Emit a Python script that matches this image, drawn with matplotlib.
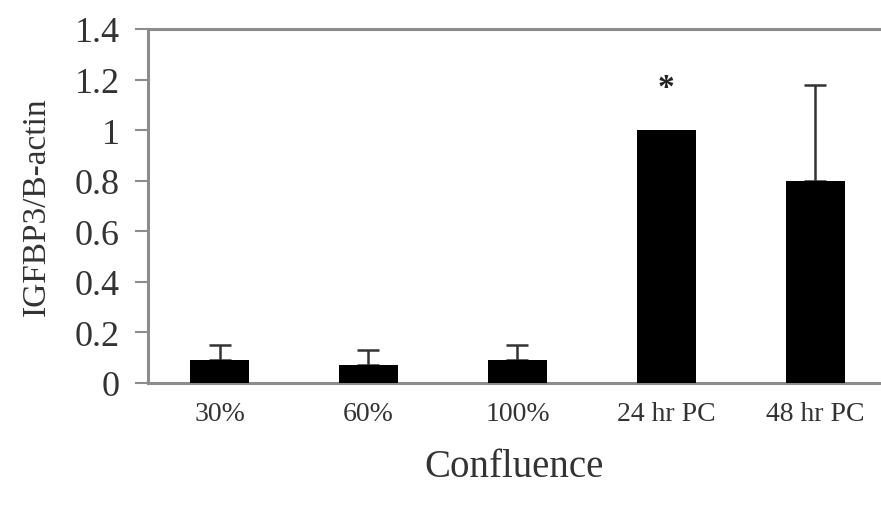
import matplotlib
matplotlib.use("Agg")
import matplotlib.pyplot as plt
import numpy as np

categories = ["30%", "60%", "100%", "24 hr PC", "48 hr PC"]
values = [0.09, 0.07, 0.09, 1.00, 0.80]
errors = [0.06, 0.06, 0.06, 0.0, 0.38]
star_index = 3
star_y = 1.17
yticks = [0, 0.2, 0.4, 0.6, 0.8, 1.0, 1.2, 1.4]
ytick_labels = ["0", "0.2", "0.4", "0.6", "0.8", "1", "1.2", "1.4"]

plt.rcParams['font.family'] = ['Liberation Serif', 'DejaVu Serif']

fig = plt.figure(figsize=(8.81, 5.10), dpi=100)
ax = fig.add_axes([148/881, 1 - 384/510, 1 - 148/881, (384 - 30)/510])

x = np.arange(len(categories))
ax.bar(x, values, width=0.4, color="black", zorder=3)

ex = [xi for xi, e in zip(x, errors) if e > 0]
ev = [v for v, e in zip(values, errors) if e > 0]
ee = [e for e in errors if e > 0]
ax.errorbar(ex, ev, yerr=[np.zeros(len(ee)), ee], fmt="none", ecolor="#333333",
            elinewidth=1.8, capsize=8, capthick=1.8, zorder=2)

ax.text(x[star_index], star_y, "*", ha="center", va="center", fontsize=24,
        color="#222222", fontweight="bold")

ax.set_ylim(0, 1.4)
ax.set_xlim(-0.48, 4.44)
ax.set_yticks(yticks)
ax.set_yticklabels(ytick_labels, fontsize=26, color="#333333")
ax.set_xticks(x)
ax.set_xticklabels(categories, fontsize=20, color="#333333")
ax.tick_params(axis="x", length=0, pad=13)
ax.tick_params(axis="y", length=9.5, width=1.5, color="#8c8c8c", pad=11)

for s in ["left", "bottom", "top"]:
    ax.spines[s].set_color("#8c8c8c")
    ax.spines[s].set_linewidth(2.2)
ax.spines["right"].set_visible(False)

ax.set_ylabel("IGFBP3/B-actin", fontsize=24, color="#333333", labelpad=16)
ax.set_xlabel("Confluence", fontsize=28, color="#333333", labelpad=16)

fig.savefig("out.png", dpi=100)
